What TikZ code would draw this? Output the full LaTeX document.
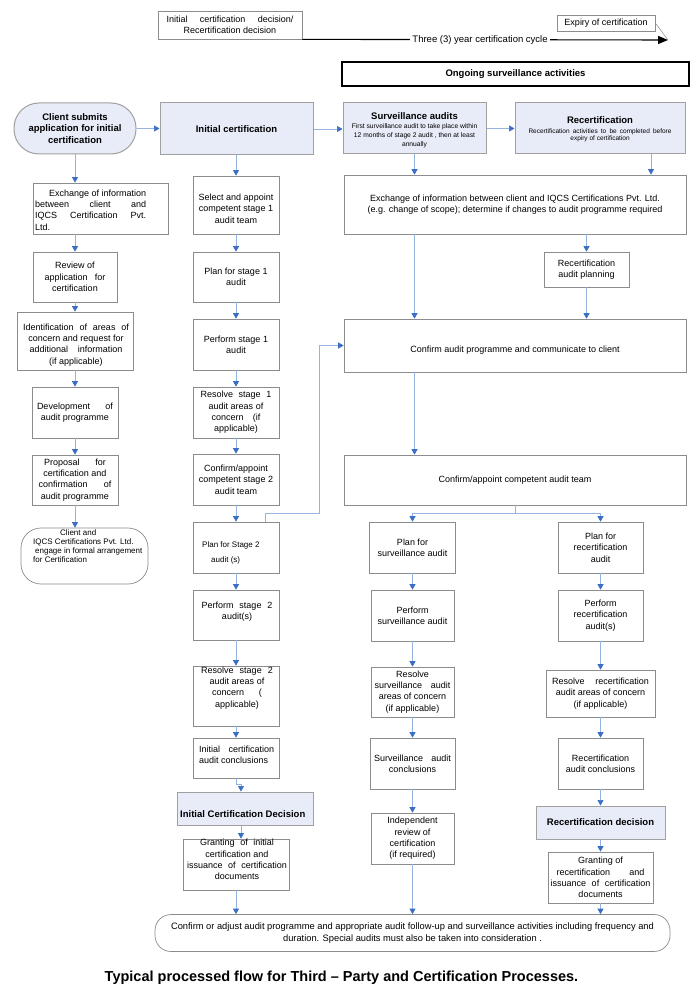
\documentclass[tikz,border=0pt]{standalone}
\usepackage{fontspec}
\setmainfont{Liberation Sans}
\usetikzlibrary{arrows.meta}
\definecolor{hdrblue}{RGB}{232,236,248}
\definecolor{boxgray}{RGB}{140,140,140}
\definecolor{hdrgray}{RGB}{160,160,160}
\definecolor{lineblue}{RGB}{150,180,225}
\definecolor{arrblue}{RGB}{60,110,195}
\newcommand{\fsz}[2]{\fontsize{#1}{#2}\selectfont}
\newcommand{\jl}[2]{\makebox[#1pt][s]{#2}}
\begin{document}
\begin{tikzpicture}[x=1pt,y=-1pt,
  box/.style={draw=boxgray, line width=0.7pt, fill=white, inner sep=1pt, align=center, font=\fsz{9}{11.3}},
  hdr/.style={box, draw=hdrgray, fill=hdrblue, line width=1pt, font=\bfseries\fsz{9.5}{11.3}},
  wh/.style 2 args={minimum width=#1, minimum height=#2},
  txt/.style={inner sep=0pt, align=center, font=\fsz{9}{11.3}},
  arr/.style={draw=lineblue, line width=0.7pt, -{Triangle[length=5.5pt,width=6pt,color=arrblue]}},
  plainline/.style={draw=lineblue, line width=0.7pt}]
\fill[white] (0,0) rectangle (700,1000);
\useasboundingbox (0,0) rectangle (700,1000);

% ---- top timeline ----
\node[box, wh={144}{28}] (topbox) at (230,25) {\jl{127}{Initial certification decision/}\\Recertification decision};
\coordinate (cyc) at (668,40);
\draw[line width=1.1pt, -{Triangle[length=10pt,width=8pt]}] (topbox.south east) -- node[pos=0.486, fill=white, inner xsep=2pt, inner ysep=1pt, font=\fsz{9.5}{11}] (cyclabel) {Three (3) year certification cycle} (cyc);
\node[box, wh={98}{16}, inner sep=0pt] (expiry) at (606,23) {Expiry of certification};
\draw[boxgray, line width=0.5pt] (expiry.east) -- (cyc);
\node[box, draw=black, line width=1.3pt, wh={347}{24}, font=\bfseries\fsz{9.5}{11}] (ongoing) at (515.5,74) {Ongoing surveillance activities};

% ---- header row ----
\node[hdr, wh={122}{51}, rounded corners=25pt] (client) at (75,128.5) {Client submits\\application for initial\\certification};
\node[hdr, wh={153}{52}] (initc) at (236.5,129) {Initial certification};
\node[hdr, wh={143}{51}] (surv) at (414.5,128.5) {};
\node[txt, font=\bfseries\fsz{9.5}{11}] (survt) at (414.5,116) {Surveillance audits};
\node[txt, font=\fsz{6.7}{9}] (survs) at (414.5,136) {First surveillance audit to take place within\\12 months of stage 2 audit , then at least\\annually};
\node[hdr, wh={170}{51}] (recert) at (600,128.5) {};
\node[txt, font=\bfseries\fsz{9.5}{11}] (recertt) at (600,120) {Recertification};
\node[txt, font=\fsz{6.5}{6.8}] (recerts) at (600,135) {\jl{143}{Recertification activities to be completed before}\\expiry of certification};

% ---- left column ----
\node[box, wh={135}{51}] (exL) at (100.5,208.5) {};
\node[txt, anchor=west, align=left] (exLt) at (35,210) {\hspace*{14pt}Exchange of information\\\jl{111}{between client and}\\\jl{111}{IQCS Certification Pvt.}\\Ltd.};
\node[box, wh={84}{50}] (review) at (75,277) {Review of\\\jl{61}{application for}\\certification};
\node[box, wh={116}{58}] (ident) at (75,341) {};
\node[txt] (identt) at (76,345) {\jl{106}{Identification of areas of}\\concern and request for\\\jl{93}{additional information}\\(if applicable)};
\node[box, wh={86}{51}] (dev) at (75,412.5) {\jl{76}{Development of}\\audit programme};
\node[box, wh={86}{50}] (prop) at (75,480) {\jl{62}{Proposal for}\\certification and\\\jl{73}{confirmation of}\\audit programme};
\node[box, rounded corners=20pt, wh={127}{56}] (ciq) at (84.5,556) {};
\node[txt, anchor=west, align=left, font=\fsz{8}{9}] (ciqt) at (33,546.5) {\hspace*{27pt}Client and\\IQCS Certifications Pvt. Ltd.\\\hspace*{2pt}engage in formal arrangement\\for Certification};

% ---- middle column ----
\node[box, wh={86}{58}] (sel) at (236,205) {};
\node[txt] (selt) at (236,208.5) {Select and appoint\\competent stage 1\\audit team};
\node[box, wh={86}{50}] (plan1) at (236,277) {Plan for stage 1\\audit};
\node[box, wh={86}{51}] (perf1) at (236,344.5) {Perform stage 1\\audit};
\node[box, wh={86}{51}] (res1) at (236,412.5) {\jl{71}{Resolve stage 1}\\audit areas of\\\jl{49}{concern (if}\\applicable)};
\node[box, wh={86}{51}] (conf2) at (236,479.5) {Confirm/appoint\\competent stage 2\\audit team};
\node[box, wh={86}{51}] (plan2) at (236,547.5) {};
\node[txt, anchor=west, align=left, font=\fsz{8}{11}] (plan2t) at (202,552.5) {Plan for Stage 2\\[4pt]\hspace*{9pt}audit (s)};
\node[box, wh={86}{50}] (perf2) at (236,615) {};
\node[txt] (perf2t) at (237,612) {\jl{71}{Perform stage 2}\\audit(s)};
\node[box, wh={86}{60}] (res2) at (236,696) {};
\node[txt] (res2t) at (237,688) {\jl{72}{Resolve stage 2}\\audit areas of\\\jl{50}{concern (}\\applicable)};
\node[box, wh={86}{40}] (concl) at (236,758) {};
\node[txt, anchor=west, align=left] (conclt) at (199,754.5) {\jl{75}{Initial certification}\\audit conclusions};
\node[hdr, wh={136}{33}] (icd) at (245,808.5) {};
\node[txt, anchor=west, font=\bfseries\fsz{9.5}{11}] (icdt) at (180,814) {Initial Certification Decision};
\node[box, wh={106}{51}] (grantI) at (236,864.5) {};
\node[txt] (grantIt) at (237,859.5) {\jl{74}{Granting of initial}\\certification and\\\jl{100}{issuance of certification}\\documents};

% ---- right part ----
\node[box, wh={342}{59}] (exR) at (515,204.5) {Exchange of information between client and IQCS Certifications Pvt. Ltd.\\(e.g. change of scope); determine if changes to audit programme required};
\node[box, wh={85}{35}] (rplan) at (586.5,269.5) {Recertification\\audit planning};
\node[box, wh={342}{53}] (confAP) at (515,345.5) {};
\node[txt] (confAPt) at (515,350) {Confirm audit programme and communicate to client};
\node[box, wh={342}{50}] (confT) at (515,480) {Confirm/appoint competent audit team};
\node[box, wh={86}{51}] (planS) at (412.5,547.5) {Plan for\\surveillance audit};
\node[box, wh={85}{51}] (planR) at (600.5,547.5) {Plan for\\recertification\\audit};
\node[box, wh={83}{51}] (perfS) at (412.5,615.5) {Perform\\surveillance audit};
\node[box, wh={85}{51}] (perfR) at (600.5,615.5) {Perform\\recertification\\audit(s)};
\node[box, wh={83}{50}] (resS) at (412.5,692) {Resolve\\\jl{76}{surveillance audit}\\areas of concern\\(if applicable)};
\node[box, wh={109}{47}] (resR) at (600.5,693.5) {\jl{97}{Resolve recertification}\\audit areas of concern\\(if applicable)};
\node[box, wh={85}{51}] (conclS) at (412.5,763.5) {\jl{77}{Surveillance audit}\\conclusions};
\node[box, wh={85}{51}] (conclR) at (600.5,763.5) {Recertification\\audit conclusions};
\node[box, wh={83}{51}] (indep) at (412.5,838.5) {Independent\\review of\\certification\\(if required)};
\node[hdr, wh={129}{33}] (rdec) at (600.5,822.5) {Recertification decision};
\node[box, wh={105}{51}] (grantR) at (600.5,877.5) {Granting of\\\jl{88}{recertification and}\\\jl{100}{issuance of certification}\\documents};

% ---- bottom ----
\node[box, rounded corners=16pt, wh={515}{37}, font=\fsz{9.3}{11.8}] (bottom) at (412.5,933) {Confirm or adjust audit programme and appropriate audit follow-up and surveillance activities including frequency and\\duration. Special audits must also be taken into consideration .};
\node[inner sep=0pt, font=\bfseries\fsz{14.5}{17}] (title) at (341.5,978) {Typical processed flow for Third – Party and Certification Processes.};

% ---- connectors: header row ----
\draw[arr] (client.east) -- (client.east -| initc.west);
\draw[arr] (initc.east) -- (initc.east -| surv.west);
\draw[arr] (surv.east) -- (surv.east -| recert.west);

% left column
\draw[arr] (client.south) -- (client.south |- exL.north);
\draw[arr] (review.north |- exL.south) -- (review.north);
\draw[arr] (review.south) -- (ident.north);
\draw[arr] (ident.south) -- (dev.north);
\draw[arr] (dev.south) -- (prop.north);
\draw[arr] (prop.south) -- (prop.south |- ciq.north);

% middle column
\draw[arr] (sel.north |- initc.south) -- (sel.north);
\draw[arr] (sel.south) -- (plan1.north);
\draw[arr] (plan1.south) -- (perf1.north);
\draw[arr] (perf1.south) -- (res1.north);
\draw[arr] (res1.south) -- (conf2.north);
\draw[arr] (conf2.south) -- (plan2.north);
\draw[arr] (plan2.south) -- (perf2.north);
\draw[arr] (perf2.south) -- (res2.north);
\draw[arr] (res2.south) -- (concl.north);
\draw[arr] (concl.south) -- ++(0,6) -| ([xshift=-4pt]icd.north);
\draw[arr] ([xshift=-4pt]icd.south) -- ([xshift=-4pt]icd.south |- grantI.north);
\draw[arr] (grantI.south) -- (grantI.south |- bottom.north);
\draw[arr] ([xshift=29pt]plan2.north) -- ++(0,-8) -- ++(54,0) |- (confAP.west);

% right part
\draw[arr] (surv.south) -- (surv.south |- exR.north);
\draw[arr] ([xshift=51pt]recert.south) -- ([xshift=51pt]recert.south |- exR.north);
\draw[arr] (rplan.north |- exR.south) -- (rplan.north);
\draw[arr] (surv.south |- exR.south) -- (surv.south |- confAP.north);
\draw[arr] (rplan.south) -- (rplan.south |- confAP.north);
\draw[arr] (surv.south |- confAP.south) -- (surv.south |- confT.north);
\draw[plainline] (confT.south) -- ++(0,8) coordinate (split);
\draw[arr] (split) -| (planS.north);
\draw[arr] (split) -| (planR.north);

\draw[arr] (planS.south) -- (perfS.north);
\draw[arr] (perfS.south) -- (resS.north);
\draw[arr] (resS.south) -- (conclS.north);
\draw[arr] (conclS.south) -- (indep.north);
\draw[arr] (indep.south) -- (indep.south |- bottom.north);

\draw[arr] (planR.south) -- (perfR.north);
\draw[arr] (perfR.south) -- (resR.north);
\draw[arr] (resR.south) -- (conclR.north);
\draw[arr] (conclR.south) -- (rdec.north);
\draw[arr] (rdec.south) -- (grantR.north);
\draw[arr] (grantR.south) -- (grantR.south |- bottom.north);
\end{tikzpicture}
\end{document}
